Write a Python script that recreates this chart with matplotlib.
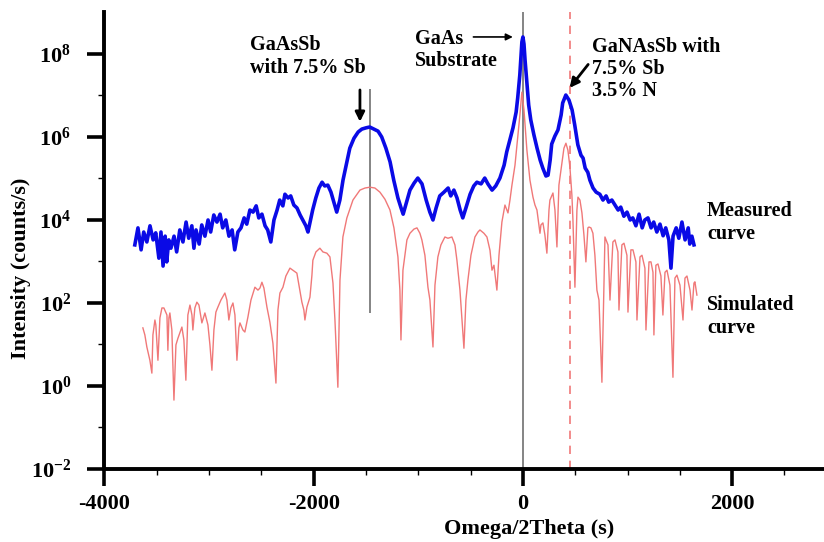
import matplotlib
matplotlib.use("Agg")
import matplotlib.pyplot as plt
import numpy as np

plt.rcParams['font.family'] = 'Liberation Serif'
plt.rcParams['font.weight'] = 'bold'
plt.rcParams['mathtext.fontset'] = 'custom'
plt.rcParams['mathtext.rm'] = 'Liberation Serif:bold'
plt.rcParams['mathtext.it'] = 'Liberation Serif:bold'
plt.rcParams['mathtext.bf'] = 'Liberation Serif:bold'
plt.rcParams['mathtext.default'] = 'regular'
plt.rcParams['axes.unicode_minus'] = False

# measured rocking curve: omega/2theta (s) and log10 of intensity (counts/s)
meas_x = [-3710, -3680, -3650, -3625, -3595, -3565, -3535, -3510, -3480, -3460,
          -3440, -3420, -3405, -3385, -3365, -3335, -3310, -3280, -3250, -3220,
          -3195, -3165, -3145, -3125, -3095, -3070, -3040, -3010, -2985, -2955,
          -2925, -2895, -2870, -2840, -2810, -2780, -2755, -2725, -2695, -2665,
          -2640, -2610, -2580, -2550, -2525, -2495, -2465, -2440, -2410, -2380,
          -2350, -2325, -2295, -2275, -2245, -2220, -2190, -2160, -2130, -2105,
          -2075, -2055, -2035, -2010, -1980, -1950, -1920, -1895, -1865, -1835,
          -1805, -1780, -1750, -1720, -1690, -1655, -1615, -1575, -1540, -1500,
          -1465, -1425, -1385, -1350, -1310, -1270, -1235, -1195, -1165, -1145,
          -1120, -1080, -1040, -1005, -965, -925, -890, -860, -830, -795,
          -755, -715, -690, -660, -630, -600, -575, -545, -505, -470,
          -440, -400, -365, -335, -295, -260, -220, -180, -155, -125,
          -95, -65, -50, -30, -20, -10, 0, 10, 20, 40,
          55, 75, 105, 135, 165, 190, 220, 240, 260, 275,
          305, 335, 365, 380, 410, 440, 470, 495, 525, 555,
          575, 595, 620, 640, 670, 700, 735, 765, 795, 820,
          850, 880, 910, 935, 965, 995, 1025, 1050, 1080, 1110,
          1140, 1165, 1195, 1225, 1250, 1280, 1310, 1340, 1365, 1395,
          1415, 1435, 1465, 1490, 1520, 1550, 1580, 1595, 1615, 1635]
meas_log = [3.40, 3.81, 3.28, 3.71, 3.47, 3.86, 3.52, 3.69, 3.08, 3.71,
            2.89, 3.61, 2.99, 3.52, 3.32, 3.61, 3.23, 3.76, 3.47, 3.95,
            3.56, 3.86, 3.32, 3.76, 3.42, 3.88, 3.61, 4.00, 3.71, 4.12,
            3.95, 4.14, 3.81, 4.00, 3.61, 3.76, 3.28, 3.71, 3.81, 4.05,
            3.90, 4.24, 4.19, 4.34, 4.05, 4.14, 3.86, 3.76, 3.47, 4.00,
            4.24, 4.48, 4.34, 4.62, 4.53, 4.58, 4.36, 4.29, 4.12, 4.00,
            3.86, 3.71, 3.95, 4.24, 4.53, 4.77, 4.91, 4.82, 4.84, 4.67,
            4.41, 4.19, 4.48, 4.96, 5.32, 5.73, 5.97, 6.12, 6.19, 6.22,
            6.24, 6.19, 6.14, 6.00, 5.73, 5.40, 4.96, 4.53, 4.29, 4.14,
            4.36, 4.72, 4.89, 5.01, 4.87, 4.48, 4.19, 4.00, 4.29, 4.58,
            4.67, 4.77, 4.58, 4.72, 4.53, 4.24, 4.05, 4.29, 4.62, 4.82,
            4.91, 4.87, 5.01, 4.87, 4.72, 4.82, 5.01, 5.32, 5.64, 5.93,
            6.22, 6.60, 6.94, 7.49, 7.90, 8.29, 8.41, 8.24, 7.86, 7.25,
            6.77, 6.41, 6.05, 5.73, 5.44, 5.25, 5.06, 5.08, 5.44, 5.83,
            6.02, 6.17, 6.53, 6.82, 7.01, 6.89, 6.65, 6.29, 5.81, 5.56,
            5.49, 5.25, 5.15, 4.96, 4.77, 4.67, 4.62, 4.48, 4.58, 4.43,
            4.48, 4.36, 4.24, 4.31, 4.09, 4.19, 4.00, 4.05, 3.86, 4.14,
            3.81, 4.00, 4.05, 3.81, 3.95, 3.71, 3.90, 3.62, 3.81, 3.52,
            2.84, 3.61, 3.81, 3.56, 3.95, 3.52, 3.81, 3.42, 3.61, 3.40]

# simulated curve
sim_x = [-3633, -3614, -3595, -3566, -3547, -3537, -3518, -3509, -3489, -3470,
         -3451, -3432, -3403, -3394, -3384, -3375, -3356, -3336, -3317, -3298,
         -3260, -3241, -3222, -3203, -3183, -3164, -3155, -3136, -3117, -3097,
         -3069, -3040, -3011, -2992, -2973, -2954, -2935, -2916, -2887, -2849,
         -2830, -2811, -2792, -2772, -2753, -2734, -2715, -2705, -2677, -2658,
         -2629, -2600, -2562, -2533, -2514, -2495, -2476, -2447, -2419, -2390,
         -2361, -2342, -2323, -2294, -2266, -2227, -2199, -2161, -2141, -2113,
         -2094, -2084, -2065, -2036, -2017, -2008, -1979, -1941, -1912, -1874,
         -1845, -1816, -1797, -1769, -1749, -1721, -1683, -1625, -1558, -1510,
         -1463, -1415, -1367, -1319, -1271, -1233, -1195, -1176, -1166, -1147,
         -1109, -1080, -1042, -1013, -985, -966, -937, -908, -889, -860,
         -841, -813, -784, -746, -717, -679, -650, -631, -602, -564,
         -545, -526, -497, -459, -430, -411, -373, -344, -315, -296,
         -277, -249, -229, -201, -172, -143, -124, -105, -76, -48,
         -29, -10, 10, 38, 67, 96, 115, 134, 163, 172,
         191, 210, 229, 249, 258, 287, 306, 325, 344, 373,
         392, 411, 430, 449, 468, 478, 497, 516, 526, 545,
         564, 583, 602, 621, 631, 650, 669, 688, 707, 727,
         755, 784, 813, 832, 860, 880, 908, 918, 946, 966,
         994, 1004, 1032, 1052, 1080, 1090, 1119, 1138, 1166, 1176,
         1205, 1224, 1243, 1252, 1271, 1291, 1319, 1338, 1358, 1377,
         1405, 1434, 1453, 1472, 1501, 1530, 1549, 1568, 1597, 1616,
         1635, 1644, 1663]
sim_log = [1.40, 1.23, 0.94, 0.62, 0.31, 1.23, 1.59, 1.47, 0.62, 1.64,
           1.88, 1.88, 1.71, 0.86, 1.64, 1.76, 1.35, -0.34, 0.99, 1.15,
           1.42, 1.11, 0.14, 1.71, 1.95, 1.71, 1.35, 1.88, 2.02, 1.95,
           1.52, 1.76, 1.47, 0.99, 0.38, 1.35, 1.78, 1.90, 2.07, 2.24,
           2.07, 1.59, 1.88, 2.00, 1.71, 0.62, 1.40, 1.52, 1.35, 1.30,
           1.66, 2.07, 2.38, 2.31, 2.36, 2.50, 2.36, 1.90, 1.54, 1.03,
           0.07, 1.83, 2.24, 2.38, 2.65, 2.84, 2.79, 2.72, 2.43, 2.02,
           1.83, 1.59, 1.90, 2.14, 2.67, 3.03, 3.23, 3.32, 3.23, 3.20,
           3.11, 2.48, 1.59, -0.03, 2.55, 3.59, 4.05, 4.48, 4.72, 4.77,
           4.79, 4.77, 4.67, 4.50, 4.24, 3.81, 3.11, 2.31, 1.11, 2.79,
           3.52, 3.68, 3.78, 3.81, 3.68, 3.52, 3.15, 2.38, 2.07, 0.94,
           2.43, 3.11, 3.40, 3.59, 3.56, 3.59, 3.40, 3.03, 2.31, 0.91,
           2.07, 2.55, 3.15, 3.59, 3.71, 3.76, 3.68, 3.59, 3.27, 2.79,
           2.91, 2.31, 3.15, 3.95, 4.36, 4.17, 4.48, 4.84, 5.32, 6.05,
           6.53, 7.08, 6.65, 5.68, 4.96, 4.55, 4.36, 4.24, 3.68, 3.88,
           3.93, 3.64, 3.20, 4.24, 4.48, 4.65, 4.24, 3.35, 4.84, 5.37,
           5.73, 5.85, 5.68, 5.28, 4.60, 4.00, 2.38, 4.24, 4.55, 4.48,
           4.17, 3.64, 2.99, 3.81, 3.83, 3.81, 3.68, 3.15, 2.31, 2.07,
           0.09, 3.59, 3.40, 2.07, 3.47, 3.52, 3.23, 1.83, 3.40, 3.44,
           3.15, 1.78, 3.28, 3.28, 2.99, 1.59, 3.11, 3.15, 2.84, 1.35,
           2.99, 2.99, 2.74, 1.23, 2.91, 2.94, 2.65, 1.71, 2.74, 2.79,
           2.43, 0.21, 2.60, 2.67, 2.43, 1.59, 2.60, 2.65, 2.31, 1.83,
           2.48, 2.51, 2.19]

fig = plt.figure(figsize=(8.24, 5.42), dpi=100)
ax = fig.add_axes([0.1268, 0.1347, 0.8887, 0.8423])

ax.plot(meas_x, 10 ** np.array(meas_log), color='#0a0ae6', lw=2.6, zorder=3)
ax.plot(sim_x, 10 ** np.array(sim_log), color='#f07878', lw=1.0, zorder=2)

# reference lines: substrate, GaAsSb layer, GaNAsSb layer
ax.axvline(0, color='#707070', lw=1.2, zorder=1)
ax.vlines(-1465, 10 ** 1.75, 10 ** 7.15, color='#707070', lw=1.2, zorder=1)
ax.axvline(450, color='#f07878', lw=1.2, ls=(0, (5, 4)), zorder=1)

ax.set_yscale('log')
ax.set_xlim(-4000, 3000)
ax.set_ylim(1e-2, 1e9)
ax.set_xticks([-4000, -2000, 0, 2000])
ax.set_xticks(np.arange(-4000, 3001, 500), minor=True)
ax.set_yticks([1e-2, 1e0, 1e2, 1e4, 1e6, 1e8])
ax.set_yticks([1e-1, 1e1, 1e3, 1e5, 1e7], minor=True)
ax.yaxis.set_minor_formatter(matplotlib.ticker.NullFormatter())
ax.tick_params(which='major', direction='out', length=12, width=2.6, labelsize=16)
ax.tick_params(axis='y', which='major', pad=12)
ax.tick_params(axis='x', which='major', pad=6)
ax.tick_params(which='minor', direction='out', length=4, width=1.0)
for side in ['top', 'right']:
    ax.spines[side].set_visible(False)
for side in ['left', 'bottom']:
    ax.spines[side].set_linewidth(2.8)

ax.set_xlabel('Omega/2Theta (s)', fontsize=16, fontweight='bold')
ax.xaxis.set_label_coords(0.58, -0.11)
ax.set_ylabel('Intensity (counts/s)', fontsize=16, fontweight='bold')
ax.yaxis.set_label_coords(-0.10, 0.44)

fs = 14.5
ax.text(-2610, 10 ** 8.45, 'GaAsSb\nwith 7.5% Sb', fontsize=fs, va='top', ha='left', linespacing=1.15)
ax.text(-1032, 10 ** 8.6, 'GaAs\nSubstrate', fontsize=fs, va='top', ha='left', linespacing=1.15)
ax.text(660, 10 ** 8.42, 'GaNAsSb with\n7.5% Sb\n3.5% N', fontsize=fs, va='top', ha='left', linespacing=1.15)
ax.text(1759, 10 ** 4.45, 'Measured\ncurve', fontsize=fs, va='top', ha='left', linespacing=1.2)
ax.text(1759, 10 ** 2.2, 'Simulated\ncurve', fontsize=fs, va='top', ha='left', linespacing=1.2)

arrow = dict(arrowstyle='-|>', color='black', lw=2.0, mutation_scale=14)
ax.annotate('', xy=(-1558, 10 ** 6.3), xytext=(-1558, 10 ** 7.2), arrowprops=arrow)
ax.annotate('', xy=(-70, 10 ** 8.41), xytext=(-500, 10 ** 8.41),
            arrowprops=dict(arrowstyle='-|>', color='black', lw=1.2, mutation_scale=10))
ax.annotate('', xy=(430, 10 ** 7.13), xytext=(640, 10 ** 7.8), arrowprops=arrow)

fig.savefig('out.png', dpi=100)
